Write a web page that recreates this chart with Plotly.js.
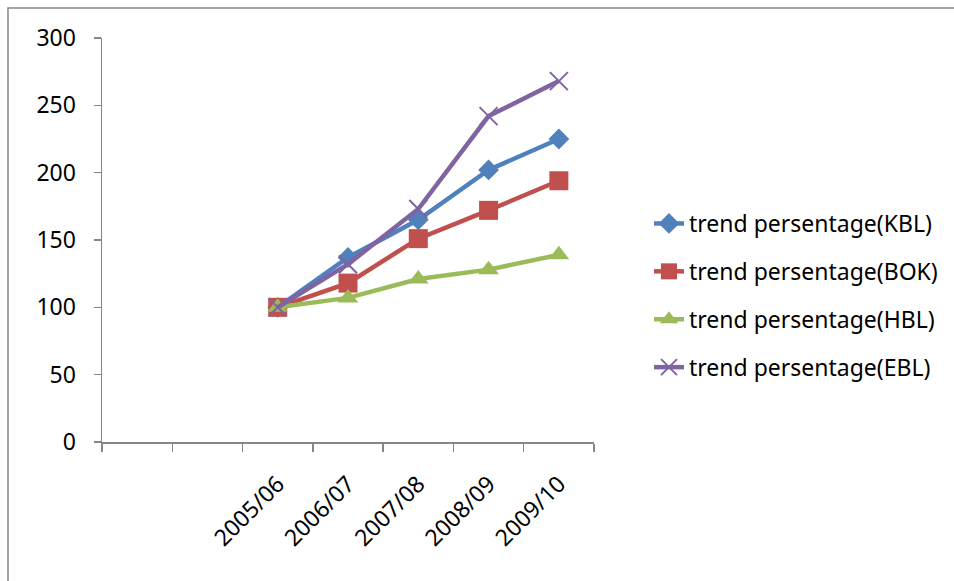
<!DOCTYPE html>
<html>
<head>
<meta charset="utf-8">
<script src="https://cdn.plot.ly/plotly-3.0.1.min.js"></script>
<style>
html,body{margin:0;padding:0;background:#fff;}
#chart{width:954px;height:581px;}
</style>
</head>
<body>
<div id="chart"></div>
<script>
// Category slots: two empty slots before the years
var placeholders = ['\u00a0', '\u00a0\u00a0'];
var years = ['2005/06', '2006/07', '2007/08', '2008/09', '2009/10'];
var seriesNames = ['trend persentage(KBL)', 'trend persentage(BOK)', 'trend persentage(HBL)', 'trend persentage(EBL)'];
var kbl = [100, 137, 165, 202, 225];
var bok = [100, 118, 151, 172, 194];
var hbl = [100, 107, 121, 128, 139];
var ebl = [100, 132, 173, 242, 268];
var yTicks = [0, 50, 100, 150, 200, 250, 300];

var colors = ['#4F81BD', '#C0504D', '#9BBB59', '#8064A2'];
var symbols = ['diamond', 'square', 'triangle-up', 'x-thin-open'];
var sizes = [16, 19, 18, 18];
var values = [kbl, bok, hbl, ebl];

var FONT = 'Noto Sans, Open Sans, sans-serif';

var traces = values.map(function (v, i) {
  return {
    type: 'scatter',
    mode: 'lines+markers',
    name: seriesNames[i],
    legendgroup: 'g' + i,
    x: years,
    y: v,
    line: {color: colors[i], width: 4.5},
    marker: {
      symbol: symbols[i],
      size: sizes[i],
      color: colors[i],
      line: {color: colors[i], width: i === 3 ? 2 : 0}
    }
  };
});

var L = 102, R = 594, T = 38, B = 442;
var W = 954, H = 581;
function px(x) { return (x - L) / (R - L); }
function py(y) { return (B - y) / (B - T); }

var layout = {
  width: W,
  height: H,
  margin: {l: L, r: W - R, t: T, b: H - B, pad: 0, autoexpand: false},
  paper_bgcolor: '#ffffff',
  plot_bgcolor: '#ffffff',
  font: {family: FONT, size: 23, color: '#000000'},
  showlegend: true,
  legend: {
    x: px(649), y: py(202), xanchor: 'left', yanchor: 'top',
    font: {family: FONT, size: 23, color: '#000000'},
    tracegroupgap: 15,
    bgcolor: 'rgba(0,0,0,0)',
    itemsizing: 'trace'
  },
  xaxis: {
    type: 'category',
    categoryorder: 'array',
    categoryarray: placeholders.concat(years),
    range: [-0.5, 6.5],
    tickson: 'boundaries',
    ticks: 'outside',
    ticklen: 8,
    tickwidth: 1.5,
    tickcolor: '#868686',
    tickangle: -45,
    ticklabelstandoff: 18,
    showline: true,
    linecolor: '#868686',
    linewidth: 1.5,
    showgrid: false,
    zeroline: false,
    fixedrange: true,
    automargin: false,
    tickfont: {family: FONT, size: 23, color: '#000000'}
  },
  yaxis: {
    range: [0, 300],
    tickvals: yTicks,
    ticks: 'outside',
    ticklen: 7,
    tickwidth: 1.5,
    tickcolor: '#868686',
    ticklabelstandoff: 13,
    showline: true,
    linecolor: '#868686',
    linewidth: 1.5,
    showgrid: false,
    zeroline: false,
    fixedrange: true,
    automargin: false,
    tickfont: {family: FONT, size: 23, color: '#000000'}
  },
  shapes: [{
    type: 'rect', xref: 'paper', yref: 'paper',
    x0: px(8), x1: px(980), y0: py(600), y1: py(8),
    line: {color: '#868686', width: 1.5},
    fillcolor: 'rgba(0,0,0,0)',
    layer: 'below'
  }]
};

Plotly.newPlot('chart', traces, layout, {displayModeBar: false, staticPlot: true});
</script>
</body>
</html>
